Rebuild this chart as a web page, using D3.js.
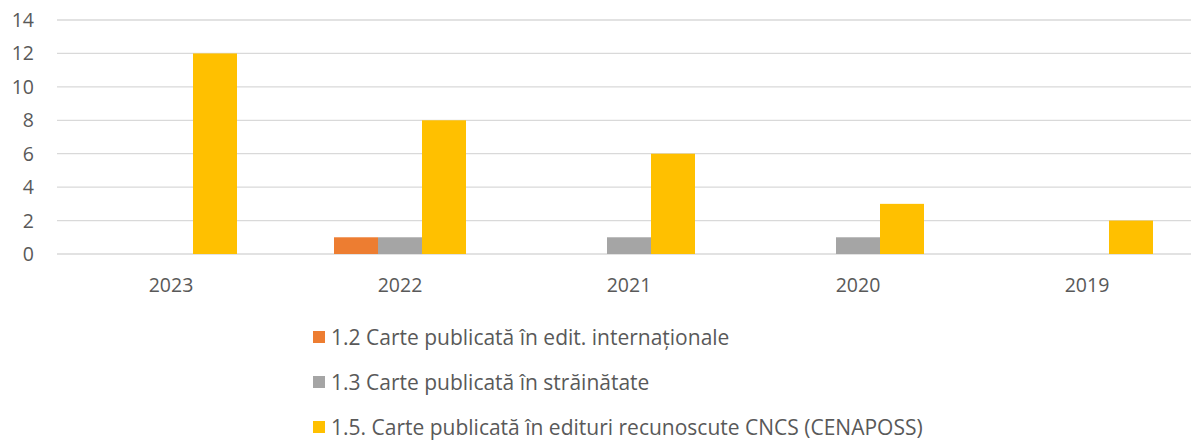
<!DOCTYPE html>
<html><head><meta charset="utf-8">
<script src="https://cdn.jsdelivr.net/npm/d3@7"></script>
<style>body{margin:0;background:#fff}svg{display:block}text{font-family:"Open Sans",sans-serif;fill:#595959}</style>
</head><body>
<script>
const categories = ["2023","2022","2021","2020","2019"];
const seriesNames = ["1.2 Carte publicată în edit. internaționale","1.3 Carte publicată în străinătate","1.5. Carte publicată în edituri recunoscute CNCS (CENAPOSS)"];
const s12 = [0,1,0,0,0];
const s13 = [0,1,1,1,0];
const s15 = [12,8,6,3,2];
const yTicks = [0,2,4,6,8,10,12,14];
const colors = ["#ED7D31","#A5A5A5","#FFC000"];
const series = [s12,s13,s15];

const W=1191,H=441;
const svg=d3.select("body").append("svg").attr("width",W).attr("height",H);
const x=d3.scaleBand().domain(categories).range([56.5,1201.5]);
const y=d3.scaleLinear().domain([0,14]).range([254,20]);
const bw=44;
const g=svg.append("g");
g.selectAll("line.grid").data(yTicks).join("line")
 .attr("x1",57).attr("x2",1202).attr("y1",d=>y(d)).attr("y2",d=>y(d))
 .attr("stroke","#d9d9d9").attr("stroke-width",1.3);
g.selectAll("text.yt").data(yTicks).join("text")
 .attr("x",34).attr("y",d=>y(d)).attr("dy","0.36em").attr("text-anchor","end")
 .attr("font-size",19.5).text(d=>d);
series.forEach((s,i)=>{
  g.selectAll(null).data(categories).join("rect")
   .attr("x",c=>x(c)+x.bandwidth()/2-1.5*bw+i*bw)
   .attr("width",bw)
   .attr("y",(c,j)=>y(s[j]))
   .attr("height",(c,j)=>y(0)-y(s[j]))
   .attr("fill",colors[i]);
});
g.selectAll("text.xt").data(categories).join("text")
 .attr("x",c=>x(c)+x.bandwidth()/2).attr("y",292).attr("text-anchor","middle")
 .attr("font-size",19.5).text(d=>d);
const leg=svg.append("g");
seriesNames.forEach((n,i)=>{
  const cy=337+i*45;
  leg.append("rect").attr("x",313).attr("y",cy-6).attr("width",12).attr("height",12).attr("fill",colors[i]);
  leg.append("text").attr("x",331).attr("y",cy).attr("dy","0.36em").attr("font-size",21).text(n);
});
</script>
</body></html>
